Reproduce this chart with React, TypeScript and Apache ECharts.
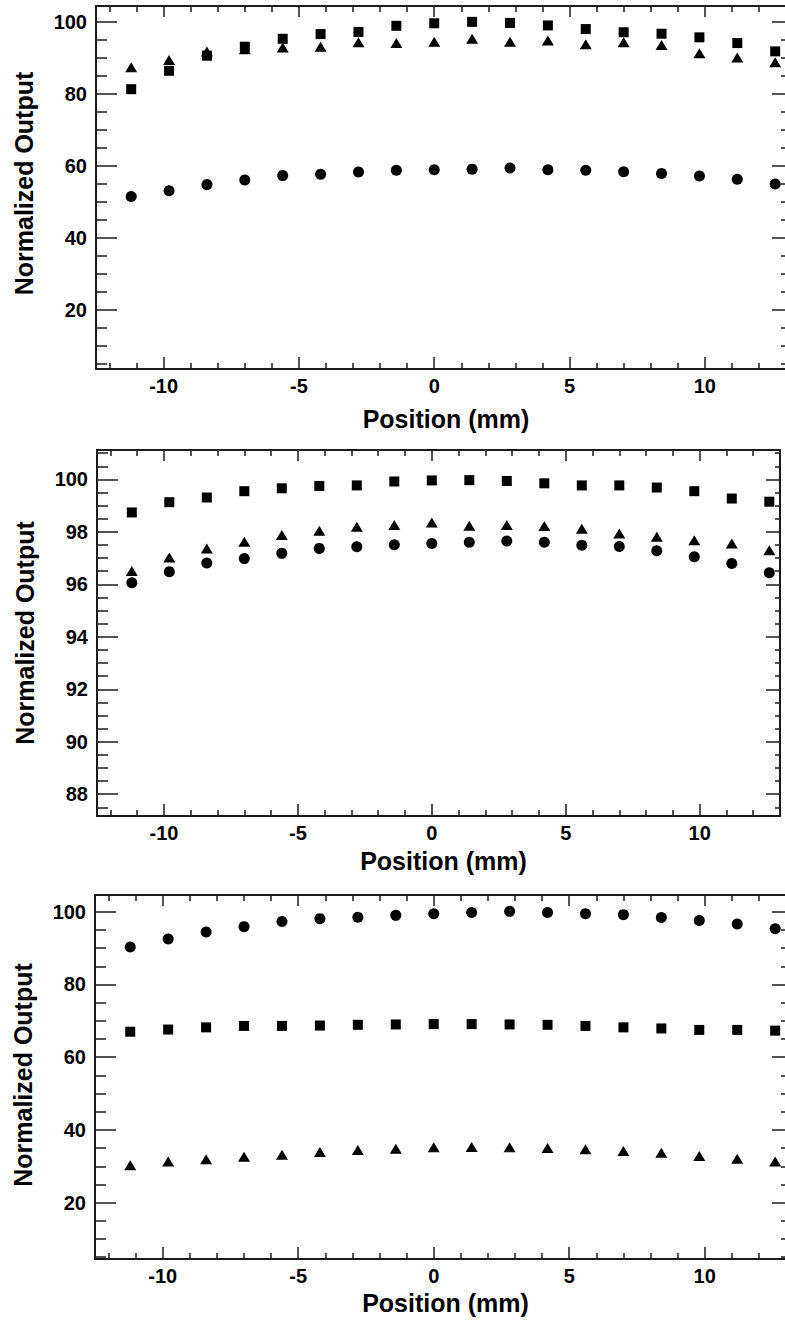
import React, { useEffect, useRef } from "react";
import * as echarts from "echarts";

// ---------- data ----------
const positions = [-11.2, -9.8, -8.4, -7.0, -5.6, -4.2, -2.8, -1.4, 0, 1.4, 2.8, 4.2, 5.6, 7.0, 8.4, 9.8, 11.2, 12.6];

// Panel 1
const p1Circles = [51.5, 53.1, 54.8, 56.1, 57.3, 57.7, 58.3, 58.8, 58.9, 59.1, 59.4, 58.9, 58.8, 58.4, 57.9, 57.2, 56.3, 55.0];
const p1Squares = [81.3, 86.4, 90.6, 93.1, 95.3, 96.6, 97.2, 98.9, 99.6, 100.0, 99.7, 99.0, 98.0, 97.1, 96.7, 95.7, 94.1, 91.8];
const p1Triangles = [87.4, 89.4, 91.8, 92.4, 92.9, 93.1, 94.3, 94.1, 94.5, 95.3, 94.5, 94.8, 93.8, 94.3, 93.6, 91.3, 90.1, 88.8];

// Panel 2
const p2Circles = [96.06, 96.48, 96.81, 96.98, 97.18, 97.37, 97.43, 97.51, 97.56, 97.6, 97.65, 97.6, 97.49, 97.44, 97.28, 97.05, 96.79, 96.44];
const p2Squares = [98.74, 99.13, 99.31, 99.55, 99.66, 99.75, 99.77, 99.92, 99.96, 99.97, 99.94, 99.85, 99.77, 99.77, 99.69, 99.55, 99.27, 99.15];
const p2Triangles = [96.51, 97.02, 97.37, 97.62, 97.88, 98.04, 98.19, 98.26, 98.36, 98.23, 98.26, 98.22, 98.12, 97.94, 97.81, 97.68, 97.56, 97.3];

// Panel 3
const p3Circles = [90.3, 92.5, 94.4, 95.9, 97.3, 98.1, 98.5, 99.0, 99.45, 99.8, 100.1, 99.8, 99.45, 99.2, 98.4, 97.6, 96.6, 95.3];
const p3Squares = [67.0, 67.6, 68.2, 68.6, 68.6, 68.7, 68.9, 69.0, 69.1, 69.1, 69.0, 68.9, 68.6, 68.2, 67.9, 67.5, 67.5, 67.3];
const p3Triangles = [30.3, 31.3, 31.9, 32.6, 33.2, 33.9, 34.5, 34.8, 35.2, 35.3, 35.2, 35.0, 34.7, 34.2, 33.7, 32.8, 32.1, 31.3];

// ticks
const xMajorTicks = [-10, -5, 0, 5, 10];
const xMinorTicks = [-12, -11, -9, -8, -7, -6, -4, -3, -2, -1, 1, 2, 3, 4, 6, 7, 8, 9, 11, 12];
const yMajorTicksA = [20, 40, 60, 80, 100];
const yMinorTicksA = [5, 10, 15, 25, 30, 35, 45, 50, 55, 65, 70, 75, 85, 90, 95];
const yMajorTicksB = [88, 90, 92, 94, 96, 98, 100];
const yMinorTicksB = [87.5, 88.5, 89, 89.5, 90.5, 91, 91.5, 92.5, 93, 93.5, 94.5, 95, 95.5, 96.5, 97, 97.5, 98.5, 99, 99.5, 100.5, 101];

const xTitle = "Position (mm)";
const yTitle = "Normalized Output";

const FONT = "'Liberation Sans', Arial, Helvetica, sans-serif";
const AXIS_COLOR = "#1a1a1a";

type Panel = {
  grid: { left: number; top: number; width: number; height: number };
  xRange: [number, number];
  yRange: [number, number];
  yMajor: number[];
  yMinor: number[];
  xNameGap: number;
  yNameShift: number;
  rightLine: boolean;
  circles: number[];
  squares: number[];
  triangles: number[];
};

const panels: Panel[] = [
  {
    grid: { left: 96, top: 6, width: 690, height: 363 },
    xRange: [-12.5, 13],
    yRange: [3.6, 104.4],
    yMajor: yMajorTicksA,
    yMinor: yMinorTicksA,
    xNameGap: 37,
    yNameShift: 8,
    rightLine: false,
    circles: p1Circles,
    squares: p1Squares,
    triangles: p1Triangles,
  },
  {
    grid: { left: 97, top: 450, width: 683, height: 366 },
    xRange: [-12.5, 13],
    yRange: [87.17, 101.12],
    yMajor: yMajorTicksB,
    yMinor: yMinorTicksB,
    xNameGap: 32,
    yNameShift: 0,
    rightLine: true,
    circles: p2Circles,
    squares: p2Squares,
    triangles: p2Triangles,
  },
  {
    grid: { left: 95, top: 895, width: 691, height: 364 },
    xRange: [-12.5, 13],
    yRange: [4.5, 104.6],
    yMajor: yMajorTicksA,
    yMinor: yMinorTicksA,
    xNameGap: 31,
    yNameShift: 4,
    rightLine: false,
    circles: p3Circles,
    squares: p3Squares,
    triangles: p3Triangles,
  },
];

function tickAxis(
  kind: "x" | "y",
  gridIndex: number,
  range: [number, number],
  position: string,
  values: number[],
  length: number,
  withLine: boolean,
  withLabel: boolean
) {
  const ax: any = {
    type: "value",
    gridIndex,
    min: range[0],
    max: range[1],
    position,
    splitLine: { show: false },
    axisLine: { show: withLine, onZero: false, lineStyle: { color: AXIS_COLOR, width: 2 } },
    axisTick: {
      show: true,
      inside: true,
      length,
      customValues: values,
      lineStyle: { color: AXIS_COLOR, width: 1.5 },
    },
    axisLabel: withLabel
      ? {
          show: true,
          customValues: values,
          color: "#000",
          fontFamily: FONT,
          fontWeight: "bold",
          fontSize: 20,
          margin: kind === "x" ? 7 : 9,
        }
      : { show: false },
  };
  return ax;
}

function buildOption() {
  const grid: any[] = [];
  const xAxis: any[] = [];
  const yAxis: any[] = [];
  const series: any[] = [];

  panels.forEach((p, gi) => {
    grid.push({ ...p.grid, containLabel: false, outerBoundsMode: "none" });
    const bottomMajor = tickAxis("x", gi, p.xRange, "bottom", xMajorTicks, 12, true, true);
    bottomMajor.name = xTitle;
    bottomMajor.nameLocation = "middle";
    bottomMajor.nameGap = p.xNameGap;
    bottomMajor.nameTextStyle = {
      color: "#000",
      fontFamily: FONT,
      fontWeight: "bold",
      fontSize: 25,
      padding: [0, 0, 0, 10],
    };
    xAxis.push(bottomMajor);
    xAxis.push(tickAxis("x", gi, p.xRange, "bottom", xMinorTicks, 6, false, false));
    xAxis.push(tickAxis("x", gi, p.xRange, "top", xMajorTicks, 11, true, false));
    xAxis.push(tickAxis("x", gi, p.xRange, "top", xMinorTicks, 6, false, false));

    const leftMajor = tickAxis("y", gi, p.yRange, "left", p.yMajor, 21, true, true);
    leftMajor.name = yTitle;
    leftMajor.nameLocation = "middle";
    leftMajor.nameGap = 60;
    leftMajor.nameTextStyle = {
      color: "#000",
      fontFamily: FONT,
      fontWeight: "bold",
      fontSize: 25,
      padding: [0, 0, 0, p.yNameShift],
    };
    yAxis.push(leftMajor);
    yAxis.push(tickAxis("y", gi, p.yRange, "left", p.yMinor, 11, false, false));
    yAxis.push(tickAxis("y", gi, p.yRange, "right", p.yMajor, 14, p.rightLine, false));
    yAxis.push(tickAxis("y", gi, p.yRange, "right", p.yMinor, 5, false, false));

    const idx = gi * 4;
    const mk = (vals: number[], symbol: string, size: any) => ({
      type: "scatter",
      xAxisIndex: idx,
      yAxisIndex: idx,
      symbol,
      symbolSize: size,
      itemStyle: { color: "#000", opacity: 1 },
      emphasis: { disabled: true },
      data: positions.map((x, i) => [x, vals[i]]),
      clip: false,
    });
    series.push(mk(p.circles, "circle", 11));
    series.push(mk(p.squares, "rect", 10));
    series.push(mk(p.triangles, "triangle", [12, 10]));
  });

  return {
    animation: false,
    backgroundColor: "#fff",
    textStyle: { fontFamily: FONT },
    grid,
    xAxis,
    yAxis,
    series,
  };
}

export default function App() {
  const ref = useRef<HTMLDivElement>(null);
  useEffect(() => {
    if (!ref.current) return;
    const chart = echarts.init(ref.current, undefined, { renderer: "svg" });
    chart.setOption(buildOption() as any);
    return () => chart.dispose();
  }, []);
  return (
    <div
      style={{
        position: "absolute",
        left: 0,
        top: 0,
        width: 785,
        height: 1325,
        overflow: "hidden",
        background: "#fff",
      }}
    >
      <div ref={ref} style={{ width: 840, height: 1325 }} />
    </div>
  );
}
